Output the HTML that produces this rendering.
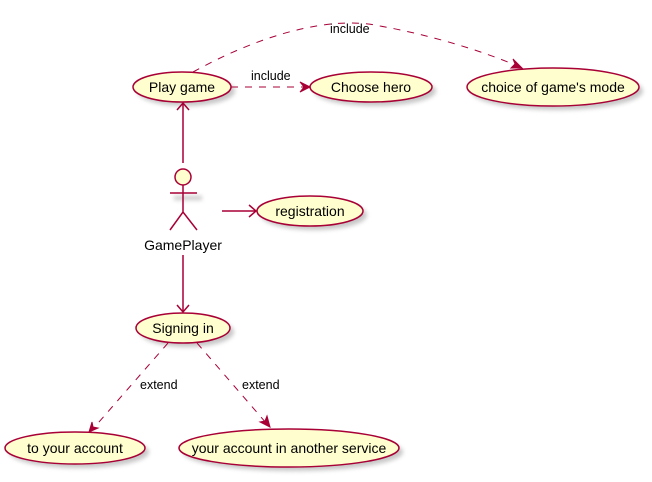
<!DOCTYPE html>
<html><head><style>html,body{margin:0;padding:0;background:#fff}svg{display:block}</style></head>
<body>
<svg width="652" height="482" xmlns="http://www.w3.org/2000/svg" font-family="Liberation Sans, sans-serif">
<defs>
<filter id="sh" x="-20%" y="-20%" width="150%" height="160%"><feGaussianBlur stdDeviation="2"/></filter>
</defs>
<g fill="#999" opacity="0.55" filter="url(#sh)">
<ellipse cx="186" cy="91" rx="49" ry="15"/>
<ellipse cx="375" cy="91" rx="61" ry="15"/>
<ellipse cx="557" cy="91" rx="86" ry="19"/>
<ellipse cx="314" cy="215" rx="53" ry="15"/>
<ellipse cx="187" cy="332" rx="47" ry="15"/>
<ellipse cx="79" cy="452" rx="70" ry="16"/>
<ellipse cx="293" cy="452" rx="110" ry="19"/>
<rect x="174" y="196" width="28" height="4"/>
</g>
<g fill="#FEFECE" stroke="#A80036" stroke-width="1.5">
<ellipse cx="182" cy="87" rx="49" ry="15"/>
<ellipse cx="371" cy="87" rx="61" ry="15"/>
<ellipse cx="553" cy="87" rx="86" ry="19"/>
<ellipse cx="310" cy="211" rx="53" ry="15"/>
<ellipse cx="183" cy="328" rx="47" ry="15"/>
<ellipse cx="75" cy="448" rx="70" ry="16"/>
<ellipse cx="289" cy="448" rx="110" ry="19"/>
<circle cx="183" cy="177" r="8"/>
</g>
<g stroke="#A80036" stroke-width="1.5" fill="none">
<path d="M183 185 V212 M170 193 H197 M170 230 L183 212 L197 230"/>
<path d="M183 163 V103 M177 110 L183 103 L189 110"/>
<path d="M222 211 H256 M249 205 L256 211 L249 217"/>
<path d="M183 255 V312 M177 305 L183 312 L189 305"/>
</g>
<g stroke="#A80036" stroke-width="1" fill="none" stroke-dasharray="7,7">
<path d="M231 87 H308"/>
<path d="M193 72 C260 35 330 15 380 26 C430 35 480 50 520 67"/>
<path d="M168 343 L92 430"/>
<path d="M197 343 L267 424"/>
</g>
<g fill="#A80036" stroke="#A80036">
<path d="M310 87 L300 82 L304 87 L300 92 Z"/>
<path d="M522 68 L511 68 L515 64 L513 59 Z"/>
<path d="M89 432 L92 422 L93 427 L98 428 Z"/>
<path d="M270 427 L260 422 L265 421 L267 416 Z"/>
</g>
<g font-size="14" fill="#000" text-anchor="middle">
<text x="182" y="92">Play game</text>
<text x="371" y="92">Choose hero</text>
<text x="553" y="92">choice of game's mode</text>
<text x="310" y="216">registration</text>
<text x="183" y="333">Signing in</text>
<text x="75" y="453">to your account</text>
<text x="289" y="453">your account in another service</text>
<text x="183" y="250" font-size="14">GamePlayer</text>
</g>
<g font-size="12.5" fill="#000">
<text x="251" y="80">include</text>
<text x="330" y="33">include</text>
<text x="140" y="389">extend</text>
<text x="242" y="389">extend</text>
</g>
</svg>
</body></html>
